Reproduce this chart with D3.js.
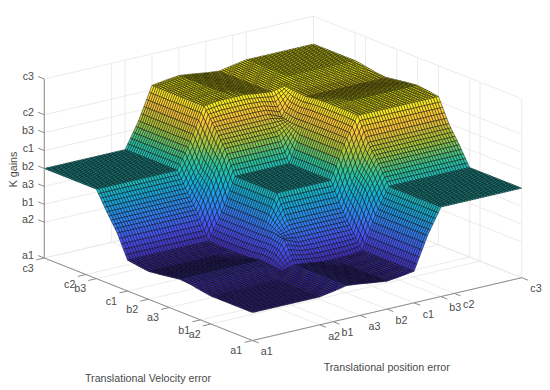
<!DOCTYPE html>
<html>
<head>
<meta charset="utf-8">
<title>K gains surface</title>
<script src="https://d3js.org/d3.v7.min.js"></script>
<style>
	html, body { margin: 0; padding: 0; background: #fff; }
	svg { display: block; }
	text { font-family: "Liberation Sans", Arial, sans-serif; fill: #4a4a4a; }
</style>
</head>
<body>
<svg id="chart" width="550" height="390"></svg>
<script>
// Tick positions and names of the three axes
var positionTicks = [0, 0.25, 0.3, 0.4, 0.5, 0.6, 0.7, 0.75, 1];
var positionLabels = ["a1", "a2", "b1", "a3", "b2", "c1", "b3", "c2", "c3"];
var velocityTicks = [0, 0.2, 0.25, 0.4, 0.5, 0.6, 0.75, 0.8, 1];
var velocityLabels = ["a1", "a2", "b1", "a3", "b2", "c1", "b3", "c2", "c3"];
var gainTicks = [0, 0.2, 0.3, 0.4, 0.5, 0.6, 0.7, 0.8, 1];
var gainLabels = ["a1", "a2", "b1", "a3", "b2", "c1", "b3", "c2", "c3"];

// Surface heights, at the places where it bends.
// One row per velocity knot, one column per position knot.
var positionKnots = [0, 0.25, 0.3, 0.35, 0.4, 0.45, 0.5, 0.55, 0.6, 0.65, 0.7, 0.75, 1];
var velocityKnots = [0, 0.2, 0.25, 0.3, 0.35, 0.4, 0.45, 0.5, 0.55, 0.6, 0.65, 0.7, 0.75, 0.8, 1];
var gainRows = [
	[0.156, 0.156, 0.169, 0.184, 0.176, 0.165, 0.156, 0.165, 0.176, 0.357, 0.500, 0.500, 0.500],
	[0.156, 0.156, 0.169, 0.184, 0.176, 0.165, 0.156, 0.165, 0.176, 0.357, 0.500, 0.500, 0.500],
	[0.165, 0.165, 0.169, 0.184, 0.176, 0.165, 0.165, 0.165, 0.176, 0.357, 0.500, 0.500, 0.500],
	[0.176, 0.176, 0.176, 0.302, 0.270, 0.270, 0.270, 0.270, 0.270, 0.480, 0.604, 0.604, 0.604],
	[0.181, 0.181, 0.181, 0.316, 0.368, 0.368, 0.368, 0.368, 0.368, 0.530, 0.699, 0.699, 0.699],
	[0.172, 0.172, 0.172, 0.316, 0.500, 0.500, 0.500, 0.500, 0.500, 0.684, 0.828, 0.828, 0.828],
	[0.163, 0.163, 0.169, 0.316, 0.500, 0.500, 0.500, 0.500, 0.500, 0.684, 0.831, 0.837, 0.837],
	[0.156, 0.156, 0.169, 0.316, 0.500, 0.500, 0.500, 0.500, 0.500, 0.684, 0.831, 0.844, 0.844],
	[0.163, 0.163, 0.169, 0.316, 0.500, 0.500, 0.500, 0.500, 0.500, 0.684, 0.831, 0.837, 0.837],
	[0.172, 0.172, 0.172, 0.316, 0.500, 0.500, 0.500, 0.500, 0.500, 0.684, 0.828, 0.828, 0.828],
	[0.301, 0.301, 0.301, 0.470, 0.632, 0.632, 0.632, 0.632, 0.632, 0.684, 0.819, 0.819, 0.819],
	[0.396, 0.396, 0.396, 0.521, 0.730, 0.730, 0.730, 0.730, 0.730, 0.698, 0.824, 0.824, 0.824],
	[0.500, 0.500, 0.500, 0.643, 0.824, 0.835, 0.835, 0.835, 0.824, 0.816, 0.831, 0.835, 0.835],
	[0.500, 0.500, 0.500, 0.643, 0.824, 0.835, 0.844, 0.835, 0.824, 0.816, 0.831, 0.844, 0.844],
	[0.500, 0.500, 0.500, 0.643, 0.824, 0.835, 0.844, 0.835, 0.824, 0.816, 0.831, 0.844, 0.844]
];

// Parula colours, low to high
var parulaColors = ["#3e26a8", "#4752f4", "#2d87f7", "#12b1d6", "#2cc79c", "#abc739", "#fec338", "#f9fb15"];

var meshCells = 100; // mesh lines drawn across each knot patch

/* ------------------------------ Projection ------------------------------ */
var xScaleU = d3.scaleLinear().domain([0, 1]).range([0, 269.2]);
var yScaleU = d3.scaleLinear().domain([0, 1]).range([0, -62.8]);
var xScaleV = d3.scaleLinear().domain([0, 1]).range([0, -208.2]);
var yScaleV = d3.scaleLinear().domain([0, 1]).range([0, -82.5]);
var yScaleZ = d3.scaleLinear().domain([0, 1]).range([0, -179]);

function project(u, v, z) {
	return [252.5 + xScaleU(u) + xScaleV(v), 340.5 + yScaleU(u) + yScaleV(v) + yScaleZ(z)];
}

function drawSegment(group, a, b, color, width) {
	var p = project(a[0], a[1], a[2]), q = project(b[0], b[1], b[2]);
	group.append("line")
		.attr("x1", p[0]).attr("y1", p[1])
		.attr("x2", q[0]).attr("y2", q[1])
		.attr("stroke", color)
		.attr("stroke-width", width);
}

var svg = d3.select("#chart");

/* -------------------------------- Walls --------------------------------- */
var gridGroup = svg.append("g").attr("class", "grid");
var gridColor = "#e9e9e9";

positionTicks.forEach(function(t) {
	drawSegment(gridGroup, [t, 0, 0], [t, 1, 0], gridColor, 0.9);
	drawSegment(gridGroup, [t, 1, 0], [t, 1, 1], gridColor, 0.9);
});
velocityTicks.forEach(function(t) {
	drawSegment(gridGroup, [0, t, 0], [1, t, 0], gridColor, 0.9);
	drawSegment(gridGroup, [1, t, 0], [1, t, 1], gridColor, 0.9);
});
gainTicks.forEach(function(t) {
	drawSegment(gridGroup, [0, 1, t], [1, 1, t], gridColor, 0.9);
	drawSegment(gridGroup, [1, 1, t], [1, 0, t], gridColor, 0.9);
});

/* ------------------------------- Surface -------------------------------- */
var rowScales = gainRows.map(function(row) {
	return d3.scaleLinear().domain(positionKnots).range(row);
});

// Height on one mesh node
function gainAt(u, v) {
	var across = rowScales.map(function(s) { return s(u); });
	return d3.scaleLinear().domain(velocityKnots).range(across)(v);
}

var meshSteps = d3.range(meshCells + 1).map(function(i) { return i / meshCells; });
var meshNodes = meshSteps.map(function(u) {
	return meshSteps.map(function(v) { return gainAt(u, v); });
});

var colorScale = d3.scaleLinear()
	.domain(parulaColors.map(function(c, i) { return 0.156 + 0.688 * i / (parulaColors.length - 1); }))
	.range(parulaColors)
	.clamp(true);

// Back corner first so that the nearer cells paint over the farther ones
var cells = [];
for (var i = meshCells - 1; i >= 0; i--) {
	for (var j = meshCells - 1; j >= 0; j--) {
		cells.push([i, j]);
	}
}

svg.append("g").attr("class", "surface")
	.selectAll("path")
	.data(cells)
	.enter()
	.append("path")
	.attr("d", function(d) {
		var i = d[0], j = d[1];
		var a = project(meshSteps[i], meshSteps[j], meshNodes[i][j]);
		var b = project(meshSteps[i + 1], meshSteps[j], meshNodes[i + 1][j]);
		var c = project(meshSteps[i + 1], meshSteps[j + 1], meshNodes[i + 1][j + 1]);
		var e = project(meshSteps[i], meshSteps[j + 1], meshNodes[i][j + 1]);
		return "M" + [a, b, c, e].map(function(p) { return p[0].toFixed(2) + "," + p[1].toFixed(2); }).join("L") + "Z";
	})
	.attr("fill", function(d) {
		var i = d[0], j = d[1];
		return colorScale((meshNodes[i][j] + meshNodes[i + 1][j] + meshNodes[i + 1][j + 1] + meshNodes[i][j + 1]) / 4);
	})
	.attr("stroke", "#000")
	.attr("stroke-width", 0.45);

/* --------------------------------- Axes --------------------------------- */
var axisGroup = svg.append("g").attr("class", "axes");
var axisColor = "#8c8c8c";
var tickLength = 0.03;

drawSegment(axisGroup, [0, 0, 0], [1, 0, 0], axisColor, 1);
drawSegment(axisGroup, [0, 0, 0], [0, 1, 0], axisColor, 1);
drawSegment(axisGroup, [0, 1, 0], [0, 1, 1], axisColor, 1);

function addLabel(x, y, label, anchor) {
	axisGroup.append("text")
		.attr("x", x)
		.attr("y", y)
		.attr("dy", "0.35em")
		.attr("text-anchor", anchor)
		.attr("font-size", 10.7)
		.text(label);
}

positionTicks.forEach(function(t, i) {
	drawSegment(axisGroup, [t, 0, 0], [t, -tickLength, 0], axisColor, 1);
	var p = project(t, 0, 0);
	addLabel(p[0] + 14.3, p[1] + 11, positionLabels[i], "middle");
});
velocityTicks.forEach(function(t, i) {
	drawSegment(axisGroup, [0, t, 0], [-tickLength, t, 0], axisColor, 1);
	var p = project(0, t, 0);
	addLabel(p[0] - 16.2, p[1] + 10, velocityLabels[i], "middle");
});
gainTicks.forEach(function(t, i) {
	drawSegment(axisGroup, [0, 1, t], [0, 1 + tickLength, t], axisColor, 1);
	var p = project(0, 1, t);
	addLabel(34, p[1] - 2.5, gainLabels[i], "end");
});

addLabel(386.7, 367, "Translational position error", "middle");
addLabel(148, 378, "Translational Velocity error", "middle");

axisGroup.append("text")
	.attr("transform", "translate(13,169.5) rotate(-90)")
	.attr("dy", "0.35em")
	.attr("text-anchor", "middle")
	.attr("font-size", 10.7)
	.text("K gains");
</script>
</body>
</html>
